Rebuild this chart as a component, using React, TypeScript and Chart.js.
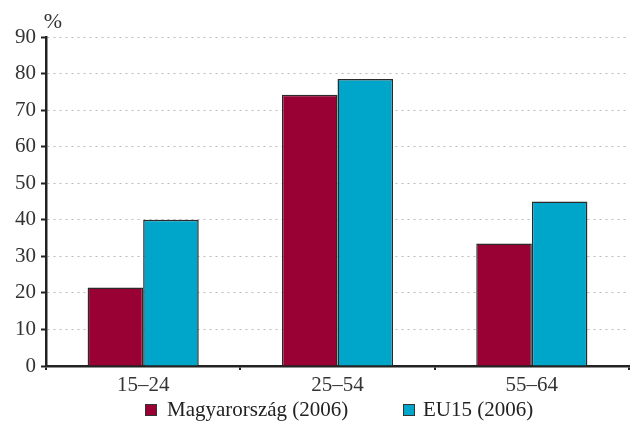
import React, { useEffect, useRef } from "react";
import { Chart, registerables } from "chart.js";

Chart.register(...registerables);

const categories = ["15–24", "25–54", "55–64"];
const hungary = [21.5, 74.2, 33.5];
const eu15 = [40, 78.5, 45];
const seriesNames = ["Magyarország (2006)", "EU15 (2006)"];
const seriesColors = ["#990033", "#00A6C9"];
const yUnit = "%";

const FONT = "'Liberation Serif', 'Times New Roman', serif";

export default function App() {
  const ref = useRef<HTMLCanvasElement | null>(null);

  useEffect(() => {
    if (!ref.current) return;
    const unitPlugin = {
      id: "unitLabel",
      afterDraw(chart: any) {
        const ctx = chart.ctx;
        ctx.save();
        ctx.font = `22px ${FONT}`;
        ctx.fillStyle = "#333";
        ctx.textAlign = "center";
        ctx.textBaseline = "middle";
        ctx.fillText(yUnit, 53, 22);
        ctx.restore();
      },
    };
    const chart = new Chart(ref.current, {
      type: "bar",
      data: {
        labels: categories,
        datasets: [
          {
            label: seriesNames[0],
            data: hungary,
            backgroundColor: seriesColors[0],
            borderColor: "#2a2a2a",
            borderWidth: 1.5,
            barPercentage: 1,
            categoryPercentage: 0.572,
          },
          {
            label: seriesNames[1],
            data: eu15,
            backgroundColor: seriesColors[1],
            borderColor: "#2a2a2a",
            borderWidth: 1.5,
            barPercentage: 1,
            categoryPercentage: 0.572,
          },
        ],
      },
      options: {
        animation: false,
        responsive: false,
        maintainAspectRatio: false,
        layout: { padding: { top: 37, right: 1, left: 0, bottom: 0 } },
        plugins: { legend: { display: false }, tooltip: { enabled: false } },
        scales: {
          x: {
            grid: {
              offset: true,
              drawOnChartArea: false,
              drawTicks: true,
              tickLength: 4,
              color: "#222",
              lineWidth: 2,
            },
            border: { display: true, color: "#222", width: 2.5 },
            ticks: {
              color: "#333",
              font: { family: FONT, size: 21 },
              padding: 3,
            },
            afterFit(scale: any) {
              scale.height = 434 - 366;
            },
          },
          y: {
            min: 0,
            max: 90,
            ticks: {
              stepSize: 10,
              color: "#333",
              font: { family: FONT, size: 21 },
              padding: 5,
            },
            grid: {
              color: "#bbbbbb",
              lineWidth: 1,
              tickColor: "#222",
              tickBorderDash: [],
              tickWidth: 2,
              tickLength: 5,
              drawTicks: true,
            },
            border: { display: true, color: "#222", width: 2.5, dash: [2, 4] },
            afterFit(scale: any) {
              scale.width = 46;
            },
          },
        },
      },
      plugins: [unitPlugin],
    });
    return () => chart.destroy();
  }, []);

  const legendText: React.CSSProperties = {
    position: "absolute",
    top: 397,
    fontFamily: FONT,
    fontSize: 21,
    color: "#222",
    lineHeight: "24px",
    whiteSpace: "nowrap",
  };
  const box = (left: number, color: string): React.CSSProperties => ({
    position: "absolute",
    left,
    top: 404,
    width: 10,
    height: 10,
    background: color,
    border: "1px solid #333",
  });

  return (
    <div style={{ position: "fixed", left: 0, top: 0, width: 630, height: 434, background: "#fff" }}>
      <canvas ref={ref} width={630} height={434} style={{ display: "block" }} />
      <div style={box(145, seriesColors[0])} />
      <div style={{ ...legendText, left: 167 }}>{seriesNames[0]}</div>
      <div style={box(403, seriesColors[1])} />
      <div style={{ ...legendText, left: 423 }}>{seriesNames[1]}</div>
    </div>
  );
}
